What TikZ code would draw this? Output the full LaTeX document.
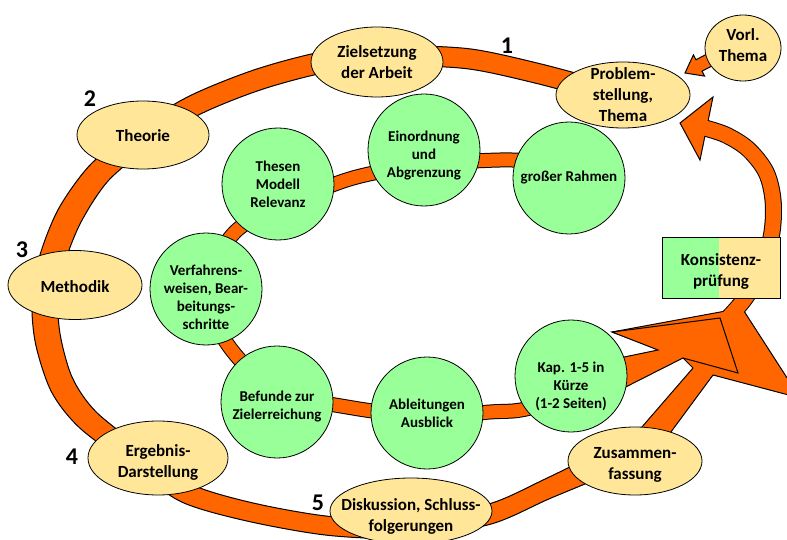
\documentclass[tikz,border=0pt]{standalone}
\usepackage{fontspec}
\setmainfont{Carlito}
\usetikzlibrary{shapes.geometric}
\definecolor{cOrange}{RGB}{255,102,0}
\definecolor{cYellow}{RGB}{255,230,153}
\definecolor{cGreen}{RGB}{153,255,153}
\newcommand\innerband[1]{\draw[#1] plot[smooth,tension=0.55] coordinates {(560,162) (500,160) (424,165) (353,178) (290,203) (235,232) (206,289) (228,345) (277,390) (353,408) (427,416) (490,412) (530,408) (600,383)};}
\newcommand\rightband[1]{\draw[#1] plot[smooth,tension=0.55] coordinates {(728,318) (746,297) (763,266) (772,232) (773,200) (766,172) (748,149) (726,135) (704.6,127.9)};}
\begin{document}
\begin{tikzpicture}[x=1pt,y=-1pt,
  band/.style={line cap=butt,line join=round},
  head/.style={fill=cOrange,draw=black,line width=1pt,line join=miter},
  ynode/.style={ellipse,draw=black,line width=0.8pt,fill=cYellow,inner sep=0pt},
  gnode/.style={circle,draw=black,line width=0.8pt,fill=cGreen,inner sep=0pt,minimum size=112pt},
  ytxt/.style={align=center,font=\fontsize{17}{21}\selectfont\bfseries,inner sep=0pt},
  gtxt/.style={align=center,font=\fontsize{15}{18}\selectfont\bfseries,inner sep=0pt},
  num/.style={font=\fontsize{24}{24}\selectfont\bfseries,inner sep=0pt}]
\useasboundingbox (0,0) rectangle (787,540);
\clip (0,0) rectangle (787,540);
% right arc: outline, then its head
\rightband{band,black,line width=17pt}
\filldraw[head] (713,97) -- (680,123) -- (700,160) -- cycle;
% outer ring with the big arrow head
\filldraw[head,line join=round]
  plot[smooth,tension=0.5] coordinates {(613.8,83.7) (542.4,64.3) (471,49) (399.8,46) (328.5,50.6) (257.1,68.9) (190.5,95.5) (138.7,126.9) (91.3,163.7) (58.6,208.7) (39.3,257.2) (32,300.7) (35.6,344) (51.5,391.9) (79.8,428) (134.3,468.8) (181.9,502.1) (247.3,521.1) (328.7,535.4) (411,538) (491.5,523.9) (549.7,498.6) (624.5,466.7) (665,440)}
  -- (713,375) -- (800,398) -- (742,308) -- (612,332) -- (683,358) -- (693,368)
  -- plot[smooth,tension=0.5] coordinates {(635,435) (613.5,445.3) (544.3,479.4) (488.5,504.1) (411,518) (331.3,516.6) (252.7,502.9) (190.1,483.9) (145.7,451.2) (96.2,412) (72.5,378.1) (60.4,336) (58,299.3) (64.7,262.8) (81.4,221.3) (108.7,180.3) (151.3,145.1) (199.5,114.5) (262.9,89.1) (331.5,71.4) (400.2,66) (469,69) (537.6,83.7) (606.2,102.3)}
  -- cycle;
\rightband{band,cOrange,line width=15pt}
% inner ring and its head
\innerband{band,black,line width=15pt}
\innerband{band,cOrange,line width=13pt}
\filldraw[head] (600,362) -- (658,350) -- (612,332) -- (720,318) -- (738,373) -- (683,358) -- (600,400) -- cycle;
% arrow from Vorl. Thema
\filldraw[head] (712,51.3) -- (696,59.8) -- (693.4,54.9) -- (685,73) -- (704.6,76.1) -- (702,71.2) -- (718,62.7) -- cycle;
% yellow nodes
\node[ynode,minimum width=132pt,minimum height=70pt,label={[ytxt]center:{Zielsetzung\\der Arbeit}}] (ziel) at (377,62) {};
\node[ynode,minimum width=134pt,minimum height=66pt,label={[ytxt]center:{Problem-\\stellung,\\Thema}}] (prob) at (623,95) {};
\node[ynode,minimum width=76pt,minimum height=66pt,label={[ytxt,yshift=3pt]center:{Vorl.\\Thema}}] (vorl) at (743,48) {};
\node[ynode,minimum width=132pt,minimum height=68pt,label={[ytxt,yshift=-1pt]center:{Theorie}}] (theo) at (143,135) {};
\node[ynode,minimum width=134pt,minimum height=69pt,label={[ytxt,yshift=-2pt]center:{Methodik}}] (meth) at (75,285) {};
\node[ynode,minimum width=140pt,minimum height=74pt,label={[ytxt,yshift=-4pt]center:{Ergebnis-\\Darstellung}}] (erg) at (158,458) {};
\node[ynode,minimum width=162pt,minimum height=66pt,label={[ytxt,yshift=-5pt]center:{Diskussion, Schluss-\\folgerungen}}] (disk) at (411,511) {};
\node[ynode,minimum width=134pt,minimum height=68pt,label={[ytxt,yshift=-4pt]center:{Zusammen-\\fassung}}] (zus) at (635,461) {};
% green nodes
\node[gnode,label={[gtxt]center:{Thesen\\Modell\\Relevanz}}] (thes) at (278,184) {};
\node[gnode,label={[gtxt,yshift=-6pt]center:{Einordnung\\und\\Abgrenzung}}] (einor) at (424,150) {};
\node[gnode,label={[gtxt]center:{großer Rahmen}}] (rahmen) at (569,178) {};
\node[gnode,label={[gtxt,yshift=-8pt]center:{Verfahrens-\\weisen, Bear-\\beitungs-\\schritte}}] (verf) at (206,289) {};
\node[gnode,label={[gtxt,yshift=-5pt]center:{Befunde zur\\Zielerreichung}}] (bef) at (277,402) {};
\node[gnode,label={[gtxt]center:{Ableitungen\\Ausblick}}] (abl) at (427,413) {};
\node[gnode,label={[gtxt,yshift=-10pt]center:{Kap. 1-5 in\\Kürze\\(1-2 Seiten)}}] (kap) at (571,376) {};
% consistency box
\node[draw=black,line width=0.8pt,fill=cYellow,minimum width=118pt,minimum height=61pt,inner sep=0pt,
  path picture={\fill[cGreen] (path picture bounding box.north west) rectangle ([xshift=-61pt]path picture bounding box.south east);},
  label={[ytxt,yshift=-4pt]center:{Konsistenz-\\prüfung}}] (kons) at (721,267.5) {};
% numbers
\node[num] (n1) at (507,46) {1};
\node[num] (n2) at (90,99) {2};
\node[num] (n3) at (22,250) {3};
\node[num] (n4) at (72,457) {4};
\node[num] (n5) at (318,503) {5};
\end{tikzpicture}
\end{document}
